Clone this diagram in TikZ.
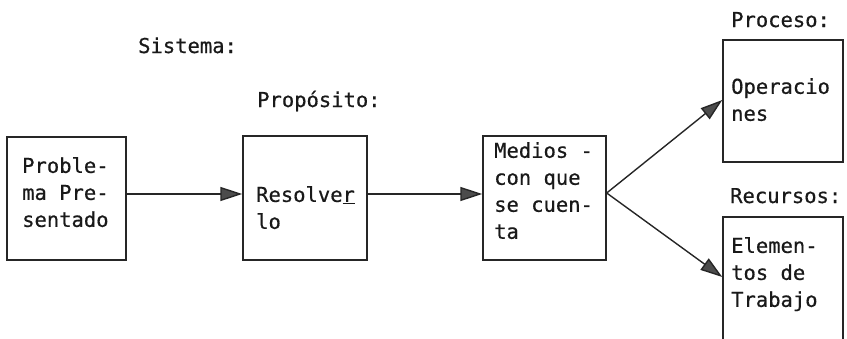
\documentclass[tikz,border=0pt]{standalone}
\usepackage{fontspec}
\newfontfamily\tw[FakeBold=0.6]{DejaVu Sans Mono}
\usetikzlibrary{arrows.meta}
\tikzset{
  box/.style={draw=black!85, line width=1.4pt, inner sep=0pt},
  txt/.style={font=\tw\fontsize{20.5}{27}\selectfont, inner sep=0pt, align=left, text=black!90},
  lbl/.style={font=\tw\fontsize{20.5}{27}\selectfont, inner sep=0pt, anchor=base west, text=black!90},
  flow/.style={draw=black!85, line width=1.4pt, -{Triangle[length=22pt,width=14pt,fill=black!70]}}
}
\begin{document}
\begin{tikzpicture}[x=1pt,y=1pt]
\useasboundingbox (0,0) rectangle (847,-338);
\clip (0,0) rectangle (847,-338);
% boxes
\node[box, minimum width=119, minimum height=123] (b1) at (66.5,-198.5) {};
\node[box, minimum width=124, minimum height=124] (b2) at (305,-198) {};
\node[box, minimum width=123, minimum height=124] (b3) at (544.5,-198) {};
\node[box, minimum width=120, minimum height=122] (b4) at (783,-101) {};
\node[box, minimum width=120, minimum height=140] (b5) at (783,-287) {};
% texts in boxes
\node[txt, anchor=north west] (t1) at (22,-157) {Proble-\\ma Pre-\\sentado};
\node[txt, anchor=north west] (t2) at (256,-186) {Resolve\underline{r}\\lo};
\node[txt, anchor=north west] (t3) at (494,-142) {\fontsize{20.5}{25.7}\selectfont Medios -\\con que\\se cuen-\\ta};
\node[txt, anchor=north west] (t4) at (731,-78) {Operacio\\nes};
\node[txt, anchor=north west] (t5) at (731,-237) {Elemen-\\tos de\\Trabajo};
% labels
\node[lbl] (l1) at (138,-53) {Sistema:};
\node[lbl] (l2) at (257,-107) {Propósito:};
\node[lbl] (l3) at (731,-27) {Proceso:};
\node[lbl] (l4) at (730,-203) {Recursos:};
% connectors
\draw[flow] ([yshift=4.5]b1.east) -- ([yshift=4]b2.west);
\draw[flow] ([yshift=4]b2.east) -- ([yshift=4]b3.west);
\coordinate (fork) at ([yshift=5]b3.east);
\draw[flow] (fork) -- ([yshift=1]b4.west);
\draw[flow] (fork) -- ([yshift=10]b5.west);
\end{tikzpicture}
\end{document}
